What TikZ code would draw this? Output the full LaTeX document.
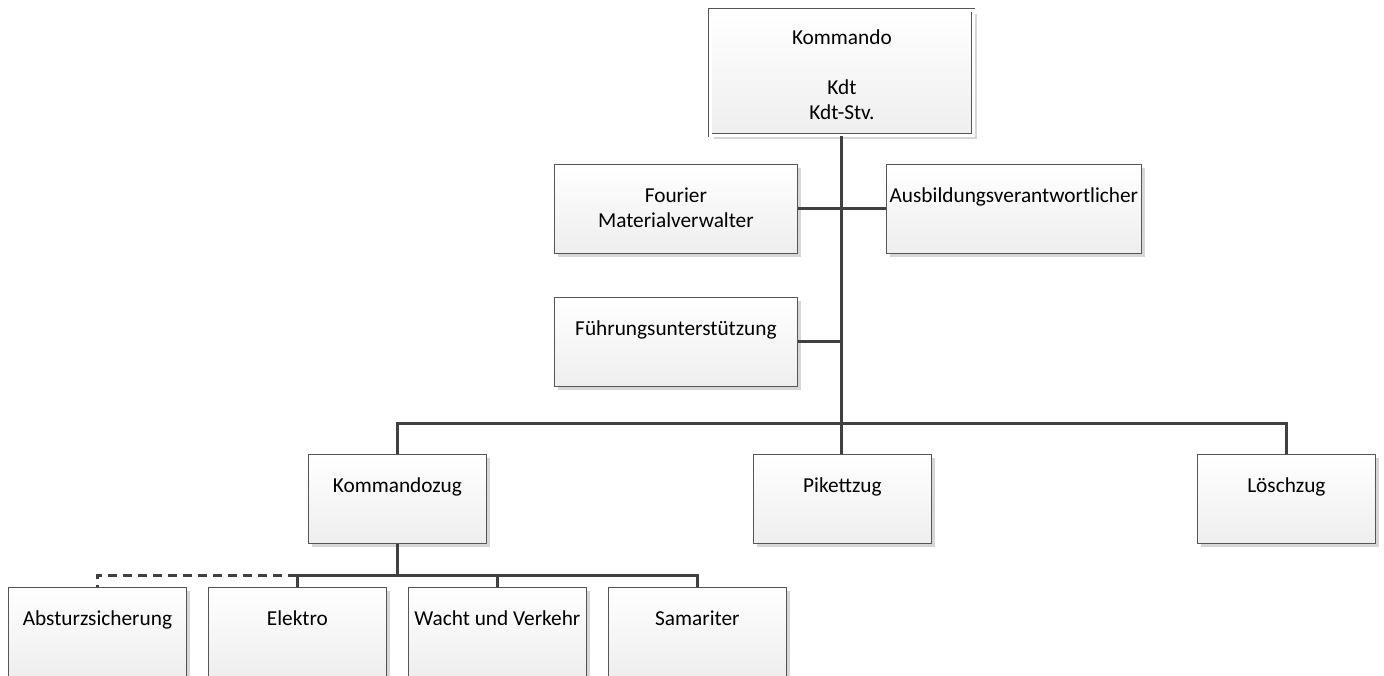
\documentclass[tikz,border=0pt]{standalone}
\usepackage{fontspec}
\setmainfont{Carlito}
\usetikzlibrary{shadows}
\definecolor{boxline}{HTML}{555555}
\definecolor{linkline}{HTML}{404040}
\definecolor{boxshade}{HTML}{EEEEEE}
\definecolor{shadowgray}{HTML}{D6D6D6}
\newcommand{\boxlines}[1]{\begin{tabular}[t]{@{}c@{}}#1\end{tabular}}
\tikzset{orgbox/.style={draw=boxline, line width=0.8pt, rectangle, anchor=north west,
inner xsep=2pt, inner ysep=0pt, minimum width=#1, text height=38pt, text depth=51pt,
top color=white, bottom color=boxshade,
drop shadow={shadow xshift=4pt, shadow yshift=-4pt, fill=shadowgray, opacity=1},
font=\fontsize{21.3}{25}\selectfont}}
\tikzset{topbox/.style={orgbox=263pt, double=white, double distance=2.4pt,
text height=34pt, text depth=91pt}}
\tikzset{link/.style={draw=linkline, line width=3pt}}
\tikzset{dashlink/.style={link, dash pattern=on 9pt off 6pt}}

\begin{document}
\begin{tikzpicture}[x=1pt, y=-1pt]
\useasboundingbox (0,0) rectangle (1384,675);
\node [topbox] (kdo) at (710,10) {\boxlines{Kommando\\ \\Kdt\\Kdt-Stv.}};

\node [orgbox=243pt] (fou) at (554,164) {\boxlines{Fourier\\Materialverwalter}};
\node [orgbox=255pt] (ausb) at (886,164) {Ausbildungsverantwortlicher};
\node [orgbox=243pt] (fue) at (554,297) {Führungsunterstützung};

\node [orgbox=178pt] (kzug) at (308,454) {Kommandozug};
\node [orgbox=178pt] (pzug) at (753,454) {Pikettzug};
\node [orgbox=178pt] (lzug) at (1197,454) {Löschzug};

\node [orgbox=178pt] (abs) at (8,587) {Absturzsicherung};
\node [orgbox=178pt] (elek) at (208,587) {Elektro};
\node [orgbox=178pt] (wacht) at (408,587) {Wacht und Verkehr};
\node [orgbox=178pt] (sam) at (608,587) {Samariter};

\coordinate (bus) at (kdo.south |- 0,423);
\coordinate (subbus) at (kzug.south |- 0,575);

\draw [link] (kdo.south) -- (bus);
\draw [link] (fou.east) -- (ausb.west);
\draw [link] (fue.east) -- (fue.east -| bus);
\draw [link] (kzug.north) |- (bus) -| (lzug.north);
\draw [link] (bus) -- (bus |- pzug.north);

\draw [link] (kzug.south) -- (subbus);
\draw [link] (elek.north) |- (subbus) -| (sam.north);
\draw [link] (wacht.north) -- (wacht.north |- subbus);
\draw [dashlink] (elek.north |- subbus) -| (abs.north);
\end{tikzpicture}
\end{document}
